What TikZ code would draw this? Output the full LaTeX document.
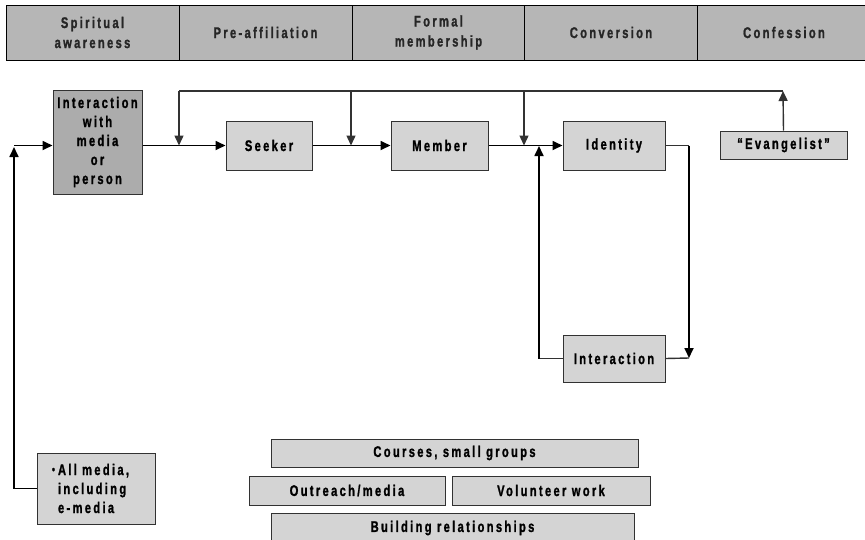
\documentclass[tikz,border=0pt]{standalone}
\usepackage{fontspec}
\setmainfont{Liberation Sans}[FakeStretch=0.72,LetterSpace=15,BoldFeatures={FakeBold=1.2}]
\usepackage{tikz}
\usetikzlibrary{arrows,arrows.meta}

\definecolor{bandgray}{RGB}{182,182,182}
\definecolor{boxgray}{RGB}{212,212,212}
\definecolor{darkbox}{RGB}{172,172,172}
\definecolor{linegray}{RGB}{50,50,50}

\begin{document}
\begin{tikzpicture}[x=1pt,y=-1pt,>={Triangle[length=10pt,width=9pt]},
    phase/.style={draw=black,line width=1pt,fill=bandgray,minimum width=173pt,
      minimum height=55pt,inner sep=0pt,align=center,text=black!85,
      font=\fontsize{15.5}{20}\selectfont\bfseries},
    box/.style={draw=linegray,line width=1pt,fill=boxgray,inner sep=0pt,align=center,
      font=\fontsize{15.5}{19}\selectfont\bfseries},
    flow/.style={line width=1.7pt,black},
    back/.style={line width=1.4pt,linegray}]
    \clip (0,0) rectangle (865,539);
    \fill[white] (0,0) rectangle (865,539);
    % phases along the top
    \node[phase] (aware) at (92.5,32.5) {Spiritual\\awareness};
    \node[phase] (preaff) at (265.5,32.5) {Pre-affiliation};
    \node[phase] (formal) at (438.5,32.5) {Formal\\membership};
    \node[phase] (conv) at (611,32.5) {Conversion};
    \node[phase] (conf) at (784,32.5) {Confession};
    % stages
    \node[box,fill=darkbox,minimum width=89pt,minimum height=104pt] (intmedia) at (97.5,142)
        {Interaction\\with\\media\\or\\person};
    \node[box,minimum width=86pt,minimum height=49pt] (seeker) at (269,145.5) {Seeker};
    \node[box,minimum width=97pt,minimum height=49pt] (member) at (439.5,145.5) {Member};
    \node[box,minimum width=102pt,minimum height=49pt] (identity) at (614,145.5) {\raisebox{3pt}{Identity}};
    \node[box,minimum width=102pt,minimum height=47pt] (interact) at (614,358.5) {Interaction};
    \node[box,minimum width=127pt,minimum height=28pt] (evang) at (783.5,145) {``Evangelist''};
    \node[box,minimum width=118pt,minimum height=71pt,align=left,text width=92pt,
        inner xsep=13pt] (allmedia) at (96,488.5)
        {\hspace*{8pt}\llap{\raisebox{1.5pt}{\fontsize{12}{12}\selectfont\textbullet}\hspace{3pt}}All media,\\
         \hspace*{8pt}including\\\hspace*{8pt}e-media};
    % activities
    \node[box,minimum width=367pt,minimum height=28pt] (courses) at (454.5,453) {Courses, small groups};
    \node[box,minimum width=196pt,minimum height=29pt] (outreach) at (347,490.5) {Outreach/media};
    \node[box,minimum width=198pt,minimum height=29pt] (volunteer) at (551,490.5) {Volunteer work};
    \node[box,minimum width=363pt,minimum height=30pt] (building) at (452.5,528) {Building relationships};
    % junctions
    \coordinate (t1) at (179,91);
    \coordinate (t2) at (351,91);
    \coordinate (t3) at (524,91);
    \coordinate (t4) at (783,91);
    \coordinate (up) at (539,146);
    \coordinate (dn) at (689,358);
    \coordinate (lft) at (14,147);
    % main flow
    \draw[flow,->] (lft |- seeker.west) -- (intmedia.west |- seeker.west);
    \draw[flow,->] (intmedia.east |- seeker.west) -- (seeker.west);
    \draw[flow,->] (seeker.east) -- (member.west);
    \draw[flow,->] (member.east) -- (identity.west);
    \draw[flow,->] (allmedia.west) -| (lft);
    % loop back along the top
    \draw[back,->] (evang.north) -- (t4);
    \draw[back] (t4) -- (t1);
    \draw[back,->] (t1) -- (t1 |- seeker.west);
    \draw[back,->] (t2) -- (t2 |- seeker.west);
    \draw[back,->] (t3) -- (t3 |- seeker.west);
    % identity and interaction
    \draw[back] (identity.east) -- (identity.east -| dn);
    \draw[flow,->] (identity.east -| dn) -- (dn);
    \draw[back] (interact.east) -- (dn);
    \draw[back] (interact.west) -- (interact.west -| up);
    \draw[flow,->] (interact.west -| up) -- (up);
\end{tikzpicture}
\end{document}
